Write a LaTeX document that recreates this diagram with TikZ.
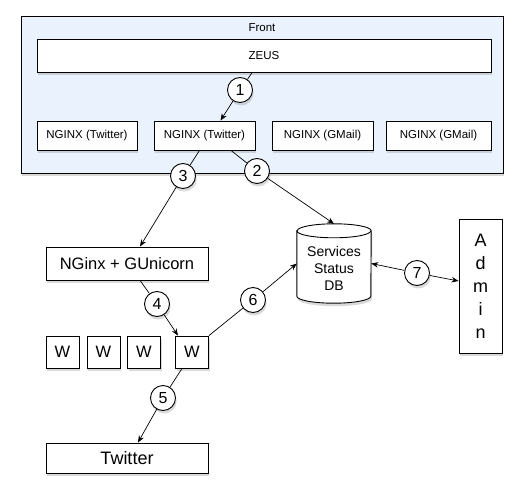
\documentclass[tikz,border=0pt]{standalone}
\usepackage{fontspec}
\setmainfont{Liberation Sans}
\usetikzlibrary{shadows,arrows.meta,calc}
\definecolor{frontblue}{RGB}{234,243,253}
\begin{document}
\begin{tikzpicture}[x=1pt,y=1pt,
  shd/.style={drop shadow={shadow xshift=1.2pt,shadow yshift=-3pt,opacity=0.3}},
  box/.style={draw=black,line width=0.9pt,fill=white,shd,inner sep=0pt,font=\fontsize{11.5}{13}\selectfont},
  num/.style={circle,draw=black,fill=white,line width=0.9pt,minimum size=25pt,inner sep=0pt,shd,font=\fontsize{16}{17}\selectfont},
  conn/.style={line width=0.7pt},
  arr/.style={conn,-{Stealth[length=7pt,width=5.5pt]}},
  bigtext/.style={font=\fontsize{16.5}{19}\selectfont},
]
\useasboundingbox (0,0) rectangle (526,498);
% Front container
\node[box,fill=frontblue,minimum width=482pt,minimum height=157pt] (front) at (262,403.5) {};
\node[font=\fontsize{11.5}{13}\selectfont] (frontlabel) at (262,470) {Front};
\node[box,minimum width=454pt,minimum height=33pt] (zeus) at (264,442.5) {ZEUS};
\node[box,minimum width=100pt,minimum height=29pt] (ng1) at (87,362.5) {NGINX (Twitter)};
\node[box,minimum width=101pt,minimum height=29pt] (ng2) at (204.5,362.5) {NGINX (Twitter)};
\node[box,minimum width=101pt,minimum height=29pt] (ng3) at (322.5,362.5) {NGINX (GMail)};
\node[box,minimum width=105pt,minimum height=29pt] (ng4) at (438.5,362.5) {NGINX (GMail)};
% lower nodes
\node[box,bigtext,minimum width=162pt,minimum height=33pt] (gun) at (127,234.5) {NGinx + GUnicorn};
\node[box,bigtext,minimum width=33pt,minimum height=32pt] (w1) at (62.5,146) {W};
\node[box,bigtext,minimum width=33pt,minimum height=32pt] (w2) at (103.5,146) {W};
\node[box,bigtext,minimum width=33pt,minimum height=32pt] (w3) at (144,146) {W};
\node[box,bigtext,minimum width=33pt,minimum height=32pt] (w4) at (192,146) {W};
\node[box,font=\fontsize{18}{20}\selectfont,minimum width=162pt,minimum height=30pt] (twitter) at (127,40) {Twitter};
\node[box,align=center,font=\fontsize{18}{23}\selectfont,minimum width=43pt,minimum height=134pt] (admin) at (480.5,212) {A\\d\\m\\i\\n};
% database cylinder
\node[minimum width=74pt,minimum height=79pt,inner sep=0pt] (db) at (334,234.5) {};
\draw[line width=0.9pt,fill=white,shd] ($(db.north west)+(0,-7)$) -- ($(db.south west)+(0,7)$)
  arc[start angle=180,end angle=360,x radius=37,y radius=7]
  -- ($(db.north east)+(0,-7)$)
  arc[start angle=0,end angle=180,x radius=37,y radius=7] -- cycle;
\draw[line width=0.9pt] ($(db.north west)+(0,-7)$) arc[start angle=180,end angle=360,x radius=37,y radius=7];
\node[align=center,font=\fontsize{14}{17}\selectfont] (dbtext) at ($(db.center)+(0,-4.5)$) {Services\\Status\\DB};
% number circles
\node[num] (c1) at (240,408) {1};
\node[num] (c2) at (257,327) {2};
\node[num] (c3) at (183,322) {3};
\node[num] (c4) at (157,194) {4};
\node[num] (c5) at (163,100) {5};
\node[num] (c6) at (253,198) {6};
\node[num] (c7) at (417,225) {7};
% connectors
\draw[conn] (zeus) -- (c1);
\draw[arr] (c1) -- ($(ng2.north)+(16,0)$);
\draw[conn] ($(ng2.south)+(-5,0)$) -- (c3);
\draw[arr] (c3) -- ($(gun.north)+(13,0)$);
\draw[conn] ($(ng2.south)+(26.5,0)$) -- (c2);
\draw[arr] (c2) -- (db.north);
\draw[conn] ($(gun.south)+(13,0)$) -- (c4);
\draw[arr] (c4) -- ($(w4.north)+(-14,0)$);
\draw[conn] (w4.north east) -- (c6);
\draw[arr] (c6) -- (db.west);
\draw[arr] (c7) -- (db.east);
\draw[arr] (c7) -- ($(admin.west)+(0,5)$);
\draw[conn] ($(w4.south)+(-10,0)$) -- (c5);
\draw[arr] (c5) -- ($(twitter.north)+(11,0)$);
\end{tikzpicture}
\end{document}
